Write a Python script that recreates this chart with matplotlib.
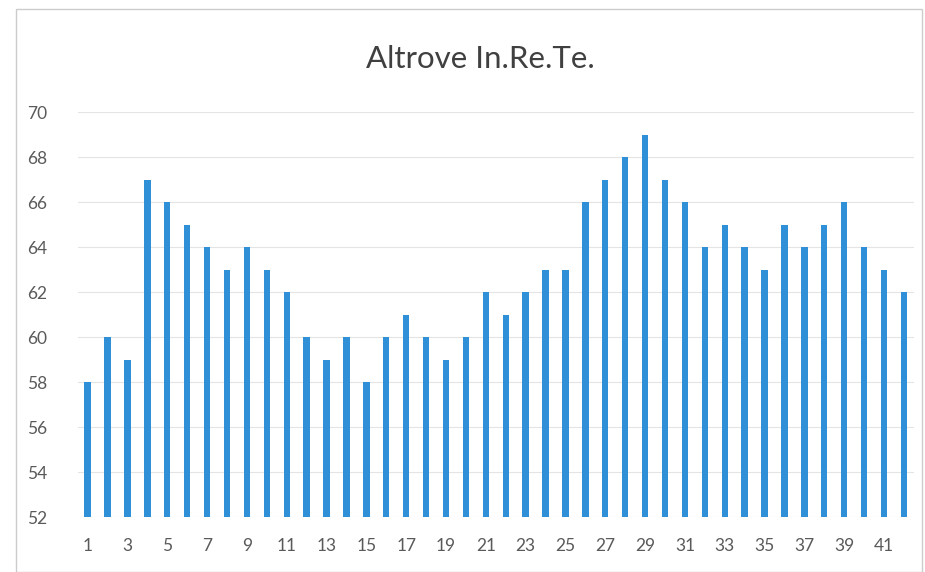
import matplotlib.pyplot as plt
from matplotlib.patches import Rectangle

# readings per position, 1..42
positions = list(range(1, 43))
values = [58, 60, 59, 67, 66, 65, 64, 63, 64, 63,
          62, 60, 59, 60, 58, 60, 61, 60, 59, 60,
          62, 61, 62, 63, 63, 66, 67, 68, 69, 67,
          66, 64, 65, 64, 63, 65, 64, 65, 66, 64,
          63, 62]
y_ticks = list(range(52, 71, 2))
x_labels = [str(p) if p % 2 == 1 else "" for p in positions]

title = "Altrove In.Re.Te."
base = 52
bar_color = "#2F90D8"
text_color = "#5a5a5a"

plt.rcParams['font.family'] = ['Lato', 'DejaVu Sans']

fig = plt.figure(figsize=(9.25, 5.72), dpi=100)
ax = fig.add_axes([0.084, 0.096, 0.904, 0.708])

heights = [v - base for v in values]
ax.bar(positions, heights, bottom=base, width=0.32, color=bar_color, zorder=3)

ax.set_ylim(52, 70)
ax.set_xlim(0.5, 42.5)
ax.set_yticks(y_ticks)
ax.set_xticks(positions)
ax.set_xticklabels(x_labels)
ax.grid(axis='y', color="#e4e4e4", linewidth=0.8, zorder=0)

for s in ax.spines.values():
    s.set_visible(False)
ax.tick_params(axis='both', length=0, labelsize=12.5, colors=text_color)
ax.tick_params(axis='y', pad=22)
ax.tick_params(axis='x', pad=15)

fig.text(0.519, 0.897, title, ha='center', va='center', fontsize=22.5, color="#404040")

# light frame around the chart area
fig.patches.append(Rectangle((0.017, 0.0), 0.98, 0.985, transform=fig.transFigure,
                             fill=False, edgecolor="#cccccc", linewidth=1.0))

fig.savefig("out.png", dpi=100, facecolor="white")
